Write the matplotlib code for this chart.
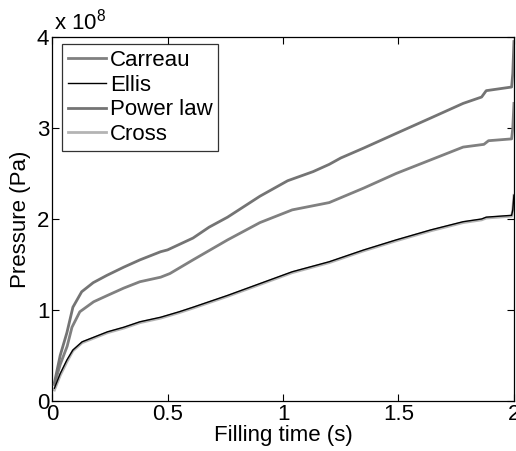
import matplotlib
matplotlib.use("Agg")
import matplotlib.pyplot as plt

plt.rcParams['font.family'] = ['Liberation Sans', 'DejaVu Sans']
plt.rcParams['mathtext.default'] = 'regular'

# filling time (s) and pressure (x 1e8 Pa)
t_power = [0.01, 0.035, 0.064, 0.09, 0.128, 0.178, 0.237, 0.31, 0.38, 0.47, 0.5,
           0.61, 0.68, 0.76, 0.9, 1.02, 1.13, 1.2, 1.25, 1.35, 1.49, 1.64, 1.78,
           1.86, 1.88, 1.99, 1.995, 2.0]
p_power = [0.2, 0.5, 0.75, 1.03, 1.2, 1.3, 1.38, 1.47, 1.55, 1.64, 1.66,
           1.79, 1.91, 2.02, 2.25, 2.42, 2.52, 2.6, 2.67, 2.78, 2.94, 3.11, 3.27,
           3.34, 3.41, 3.45, 3.6, 3.95]

t_carreau = [0.01, 0.035, 0.065, 0.086, 0.12, 0.18, 0.24, 0.31, 0.38, 0.47, 0.51,
             0.61, 0.76, 0.9, 1.04, 1.2, 1.35, 1.49, 1.64, 1.78, 1.87, 1.89, 1.99,
             1.995, 2.0]
p_carreau = [0.18, 0.4, 0.6, 0.81, 0.98, 1.09, 1.16, 1.24, 1.31, 1.36, 1.4,
             1.55, 1.77, 1.96, 2.1, 2.18, 2.34, 2.5, 2.65, 2.79, 2.82, 2.86, 2.88,
             3.0, 3.27]

t_ellis = [0.01, 0.035, 0.064, 0.09, 0.13, 0.18, 0.24, 0.31, 0.38, 0.47, 0.51,
           0.55, 0.61, 0.76, 0.9, 1.04, 1.2, 1.35, 1.49, 1.64, 1.78, 1.86, 1.88,
           1.99, 1.995, 2.0]
p_ellis = [0.14, 0.3, 0.45, 0.56, 0.65, 0.7, 0.76, 0.81, 0.87, 0.92, 0.95,
           0.98, 1.03, 1.16, 1.29, 1.42, 1.53, 1.66, 1.77, 1.88, 1.97, 2.0, 2.02,
           2.04, 2.1, 2.26]
p_cross = [0.12, 0.28, 0.43, 0.55, 0.64, 0.69, 0.75, 0.8, 0.86, 0.91, 0.94,
           0.97, 1.02, 1.15, 1.28, 1.41, 1.52, 1.65, 1.76, 1.87, 1.96, 1.99, 2.01,
           2.03, 2.1, 2.26]

fig = plt.figure(figsize=(5.16, 4.51), dpi=100)
ax = fig.add_axes([0.101, 0.111, 0.895, 0.807])

l_car, = ax.plot(t_carreau, p_carreau, color='#808080', lw=2.0, label='Carreau', zorder=3)
l_cro, = ax.plot(t_ellis, p_cross, color='#b4b4b4', lw=2.0, label='Cross', zorder=2)
l_ell, = ax.plot(t_ellis, p_ellis, color='black', lw=1.0, label='Ellis', zorder=4)
l_pow, = ax.plot(t_power, p_power, color='#747474', lw=2.0, label='Power law', zorder=3)

ax.set_xlim(0, 2)
ax.set_ylim(0, 4)
ax.set_xticks([0, 0.5, 1, 1.5, 2])
ax.set_xticklabels(['0', '0.5', '1', '1.5', '2'])
ax.set_yticks([0, 1, 2, 3, 4])
ax.set_yticklabels(['0', '1', '2', '3', '4'])
ax.tick_params(direction='in', top=True, right=True, length=5, labelsize=16, pad=2)
for s in ax.spines.values():
    s.set_linewidth(0.9)

ax.set_xlabel('Filling time (s)', fontsize=16, labelpad=0)
ax.set_ylabel('Pressure (Pa)', fontsize=16, labelpad=4)
ax.text(0.005, 1.006, r'x 10$^{8}$', transform=ax.transAxes, fontsize=16,
        ha='left', va='bottom')

leg = ax.legend(handles=[l_car, l_ell, l_pow, l_cro], loc='upper left',
                bbox_to_anchor=(0.022, 0.98), fontsize=16, frameon=True,
                fancybox=False, edgecolor='black', handlelength=1.7,
                handletextpad=0.2, borderpad=0.25, labelspacing=0.17,
                borderaxespad=0)
leg.get_frame().set_linewidth(0.9)

fig.savefig('out.png', dpi=100)
